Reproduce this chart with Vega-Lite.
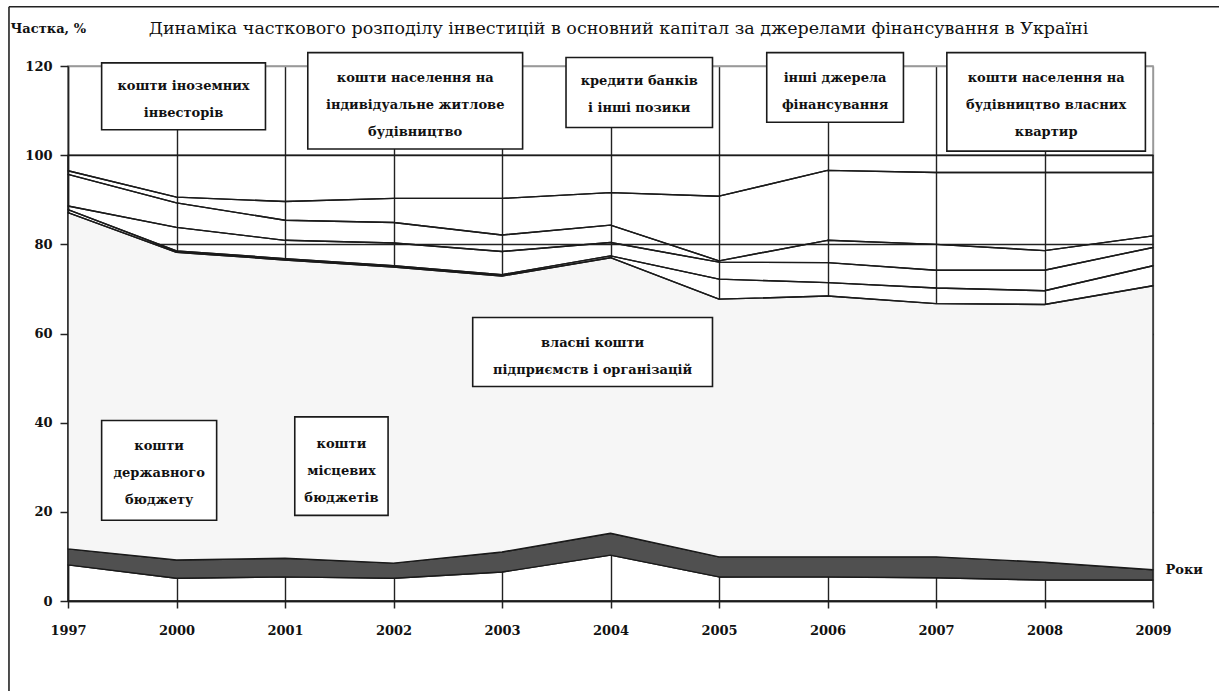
{
  "$schema": "https://vega.github.io/schema/vega-lite/v6.json",
  "autosize": {"type": "none"},
  "width": 1085,
  "height": 535,
  "padding": {"left": 68, "top": 66, "right": 66, "bottom": 90},
  "background": "white",
  "title": {
    "text": "Динаміка часткового розподілу інвестицій в основний капітал за джерелами фінансування в Україні",
    "font": "DejaVu Serif",
    "fontSize": 17.5,
    "fontWeight": "normal",
    "color": "#111",
    "anchor": "middle",
    "frame": "group",
    "offset": 0,
    "dy": 32,
    "dx": 8
  },
  "config": {
    "view": {"stroke": "#999", "strokeWidth": 1.5},
    "axis": {
      "labelFont": "DejaVu Serif",
      "labelFontWeight": "bold",
      "labelFontSize": 13,
      "labelColor": "#111",
      "titleFont": "DejaVu Serif",
      "titleFontWeight": "bold",
      "titleFontSize": 13,
      "titleColor": "#111",
      "domainColor": "#222",
      "domainWidth": 1.5,
      "tickColor": "#222",
      "tickWidth": 1.5,
      "gridWidth": 1.4
    }
  },
  "datasets": {
    "shares": [
      {"year": "1997", "pos": 0, "k": 1, "s": "Кошти державного бюджету", "v": 8.1},
      {"year": "1997", "pos": 0, "k": 2, "s": "Кошти місцевих бюджетів", "v": 3.6},
      {"year": "1997", "pos": 0, "k": 3, "s": "Власні кошти підприємств і організацій", "v": 75.4},
      {"year": "1997", "pos": 0, "k": 4, "s": "Кошти населення на будівництво власних квартир", "v": 0.7},
      {"year": "1997", "pos": 0, "k": 5, "s": "Кошти іноземних інвесторів", "v": 0.8},
      {"year": "1997", "pos": 0, "k": 6, "s": "Кошти населення на індивідуальне житлове будівництво", "v": 7.1},
      {"year": "1997", "pos": 0, "k": 7, "s": "Кредити банків та інші позики", "v": 0.8},
      {"year": "1997", "pos": 0, "k": 8, "s": "Інші джерела фінансування", "v": 3.5},

      {"year": "2000", "pos": 1, "k": 1, "s": "Кошти державного бюджету", "v": 5.1},
      {"year": "2000", "pos": 1, "k": 2, "s": "Кошти місцевих бюджетів", "v": 4.1},
      {"year": "2000", "pos": 1, "k": 3, "s": "Власні кошти підприємств і організацій", "v": 69.0},
      {"year": "2000", "pos": 1, "k": 4, "s": "Кошти населення на будівництво власних квартир", "v": 0.3},
      {"year": "2000", "pos": 1, "k": 5, "s": "Кошти іноземних інвесторів", "v": 5.3},
      {"year": "2000", "pos": 1, "k": 6, "s": "Кошти населення на індивідуальне житлове будівництво", "v": 5.5},
      {"year": "2000", "pos": 1, "k": 7, "s": "Кредити банків та інші позики", "v": 1.3},
      {"year": "2000", "pos": 1, "k": 8, "s": "Інші джерела фінансування", "v": 9.4},

      {"year": "2001", "pos": 2, "k": 1, "s": "Кошти державного бюджету", "v": 5.4},
      {"year": "2001", "pos": 2, "k": 2, "s": "Кошти місцевих бюджетів", "v": 4.2},
      {"year": "2001", "pos": 2, "k": 3, "s": "Власні кошти підприємств і організацій", "v": 66.9},
      {"year": "2001", "pos": 2, "k": 4, "s": "Кошти населення на будівництво власних квартир", "v": 0.3},
      {"year": "2001", "pos": 2, "k": 5, "s": "Кошти іноземних інвесторів", "v": 4.1},
      {"year": "2001", "pos": 2, "k": 6, "s": "Кошти населення на індивідуальне житлове будівництво", "v": 4.5},
      {"year": "2001", "pos": 2, "k": 7, "s": "Кредити банків та інші позики", "v": 4.2},
      {"year": "2001", "pos": 2, "k": 8, "s": "Інші джерела фінансування", "v": 10.4},

      {"year": "2002", "pos": 3, "k": 1, "s": "Кошти державного бюджету", "v": 5.1},
      {"year": "2002", "pos": 3, "k": 2, "s": "Кошти місцевих бюджетів", "v": 3.4},
      {"year": "2002", "pos": 3, "k": 3, "s": "Власні кошти підприємств і організацій", "v": 66.4},
      {"year": "2002", "pos": 3, "k": 4, "s": "Кошти населення на будівництво власних квартир", "v": 0.3},
      {"year": "2002", "pos": 3, "k": 5, "s": "Кошти іноземних інвесторів", "v": 5.1},
      {"year": "2002", "pos": 3, "k": 6, "s": "Кошти населення на індивідуальне житлове будівництво", "v": 4.6},
      {"year": "2002", "pos": 3, "k": 7, "s": "Кредити банків та інші позики", "v": 5.4},
      {"year": "2002", "pos": 3, "k": 8, "s": "Інші джерела фінансування", "v": 9.7},

      {"year": "2003", "pos": 4, "k": 1, "s": "Кошти державного бюджету", "v": 6.5},
      {"year": "2003", "pos": 4, "k": 2, "s": "Кошти місцевих бюджетів", "v": 4.5},
      {"year": "2003", "pos": 4, "k": 3, "s": "Власні кошти підприємств і організацій", "v": 61.9},
      {"year": "2003", "pos": 4, "k": 4, "s": "Кошти населення на будівництво власних квартир", "v": 0.3},
      {"year": "2003", "pos": 4, "k": 5, "s": "Кошти іноземних інвесторів", "v": 5.2},
      {"year": "2003", "pos": 4, "k": 6, "s": "Кошти населення на індивідуальне житлове будівництво", "v": 3.7},
      {"year": "2003", "pos": 4, "k": 7, "s": "Кредити банків та інші позики", "v": 8.2},
      {"year": "2003", "pos": 4, "k": 8, "s": "Інші джерела фінансування", "v": 9.7},

      {"year": "2004", "pos": 5, "k": 1, "s": "Кошти державного бюджету", "v": 10.3},
      {"year": "2004", "pos": 5, "k": 2, "s": "Кошти місцевих бюджетів", "v": 4.9},
      {"year": "2004", "pos": 5, "k": 3, "s": "Власні кошти підприємств і організацій", "v": 61.8},
      {"year": "2004", "pos": 5, "k": 4, "s": "Кошти населення на будівництво власних квартир", "v": 0.4},
      {"year": "2004", "pos": 5, "k": 5, "s": "Кошти іноземних інвесторів", "v": 3.0},
      {"year": "2004", "pos": 5, "k": 6, "s": "Кошти населення на індивідуальне житлове будівництво", "v": 3.9},
      {"year": "2004", "pos": 5, "k": 7, "s": "Кредити банків та інші позики", "v": 7.3},
      {"year": "2004", "pos": 5, "k": 8, "s": "Інші джерела фінансування", "v": 8.4},

      {"year": "2005", "pos": 6, "k": 1, "s": "Кошти державного бюджету", "v": 5.4},
      {"year": "2005", "pos": 6, "k": 2, "s": "Кошти місцевих бюджетів", "v": 4.5},
      {"year": "2005", "pos": 6, "k": 3, "s": "Власні кошти підприємств і організацій", "v": 57.8},
      {"year": "2005", "pos": 6, "k": 4, "s": "Кошти населення на будівництво власних квартир", "v": 4.5},
      {"year": "2005", "pos": 6, "k": 5, "s": "Кошти іноземних інвесторів", "v": 3.8},
      {"year": "2005", "pos": 6, "k": 6, "s": "Кошти населення на індивідуальне житлове будівництво", "v": 0.3},
      {"year": "2005", "pos": 6, "k": 7, "s": "Кредити банків та інші позики", "v": 14.5},
      {"year": "2005", "pos": 6, "k": 8, "s": "Інші джерела фінансування", "v": 9.2},

      {"year": "2006", "pos": 7, "k": 1, "s": "Кошти державного бюджету", "v": 5.4},
      {"year": "2006", "pos": 7, "k": 2, "s": "Кошти місцевих бюджетів", "v": 4.5},
      {"year": "2006", "pos": 7, "k": 3, "s": "Власні кошти підприємств і організацій", "v": 58.5},
      {"year": "2006", "pos": 7, "k": 4, "s": "Кошти населення на будівництво власних квартир", "v": 3.0},
      {"year": "2006", "pos": 7, "k": 5, "s": "Кошти іноземних інвесторів", "v": 4.5},
      {"year": "2006", "pos": 7, "k": 6, "s": "Кошти населення на індивідуальне житлове будівництво", "v": 5.0},
      {"year": "2006", "pos": 7, "k": 7, "s": "Кредити банків та інші позики", "v": 15.7},
      {"year": "2006", "pos": 7, "k": 8, "s": "Інші джерела фінансування", "v": 3.4},

      {"year": "2007", "pos": 8, "k": 1, "s": "Кошти державного бюджету", "v": 5.2},
      {"year": "2007", "pos": 8, "k": 2, "s": "Кошти місцевих бюджетів", "v": 4.7},
      {"year": "2007", "pos": 8, "k": 3, "s": "Власні кошти підприємств і організацій", "v": 56.8},
      {"year": "2007", "pos": 8, "k": 4, "s": "Кошти населення на будівництво власних квартир", "v": 3.5},
      {"year": "2007", "pos": 8, "k": 5, "s": "Кошти іноземних інвесторів", "v": 4.0},
      {"year": "2007", "pos": 8, "k": 6, "s": "Кошти населення на індивідуальне житлове будівництво", "v": 5.8},
      {"year": "2007", "pos": 8, "k": 7, "s": "Кредити банків та інші позики", "v": 16.1},
      {"year": "2007", "pos": 8, "k": 8, "s": "Інші джерела фінансування", "v": 3.9},

      {"year": "2008", "pos": 9, "k": 1, "s": "Кошти державного бюджету", "v": 4.7},
      {"year": "2008", "pos": 9, "k": 2, "s": "Кошти місцевих бюджетів", "v": 4.0},
      {"year": "2008", "pos": 9, "k": 3, "s": "Власні кошти підприємств і організацій", "v": 57.8},
      {"year": "2008", "pos": 9, "k": 4, "s": "Кошти населення на будівництво власних квартир", "v": 3.1},
      {"year": "2008", "pos": 9, "k": 5, "s": "Кошти іноземних інвесторів", "v": 4.6},
      {"year": "2008", "pos": 9, "k": 6, "s": "Кошти населення на індивідуальне житлове будівництво", "v": 4.4},
      {"year": "2008", "pos": 9, "k": 7, "s": "Кредити банків та інші позики", "v": 17.5},
      {"year": "2008", "pos": 9, "k": 8, "s": "Інші джерела фінансування", "v": 3.9},

      {"year": "2009", "pos": 10, "k": 1, "s": "Кошти державного бюджету", "v": 4.7},
      {"year": "2009", "pos": 10, "k": 2, "s": "Кошти місцевих бюджетів", "v": 2.3},
      {"year": "2009", "pos": 10, "k": 3, "s": "Власні кошти підприємств і організацій", "v": 63.7},
      {"year": "2009", "pos": 10, "k": 4, "s": "Кошти населення на будівництво власних квартир", "v": 4.5},
      {"year": "2009", "pos": 10, "k": 5, "s": "Кошти іноземних інвесторів", "v": 4.1},
      {"year": "2009", "pos": 10, "k": 6, "s": "Кошти населення на індивідуальне житлове будівництво", "v": 2.6},
      {"year": "2009", "pos": 10, "k": 7, "s": "Кредити банків та інші позики", "v": 14.2},
      {"year": "2009", "pos": 10, "k": 8, "s": "Інші джерела фінансування", "v": 3.9}
    ],
    "boxes": [
      {"x1": 0.31, "x2": 1.82, "y1": 120.7, "y2": 105.7, "tx": 1.065, "ty": 115.5, "label": "кошти іноземних\nінвесторів"},
      {"x1": 2.21, "x2": 4.19, "y1": 123.0, "y2": 101.4, "tx": 3.2, "ty": 117.4, "label": "кошти населення на\nіндивідуальне житлове\nбудівництво"},
      {"x1": 4.59, "x2": 5.94, "y1": 121.9, "y2": 106.2, "tx": 5.265, "ty": 116.6, "label": "кредити банків\nі інші позики"},
      {"x1": 6.44, "x2": 7.70, "y1": 123.0, "y2": 107.4, "tx": 7.07, "ty": 117.4, "label": "інші джерела\nфінансування"},
      {"x1": 8.10, "x2": 9.93, "y1": 123.0, "y2": 100.9, "tx": 9.015, "ty": 117.4, "label": "кошти населення на\nбудівництво власних\nквартир"},
      {"x1": 3.73, "x2": 5.94, "y1": 63.6, "y2": 48.1, "tx": 4.835, "ty": 57.9, "label": "власні кошти\nпідприємств і організацій"},
      {"x1": 0.31, "x2": 1.37, "y1": 40.5, "y2": 18.1, "tx": 0.84, "ty": 34.7, "label": "кошти\nдержавного\nбюджету"},
      {"x1": 2.09, "x2": 2.95, "y1": 41.3, "y2": 19.2, "tx": 2.52, "ty": 35.3, "label": "кошти\nмісцевих\nбюджетів"}
    ],
    "frame": [
      {"x1": -0.544, "x2": -0.544, "y1": 133.3, "y2": -22},
      {"x1": -0.544, "x2": 10.8, "y1": 133.3, "y2": 133.3}
    ]
  },
  "layer": [
    {
      "data": {"name": "shares"},
      "mark": {"type": "area", "stroke": "#1a1a1a", "strokeWidth": 1.4, "strokeJoin": "round", "fillOpacity": 1},
      "encoding": {
        "x": {
          "field": "pos",
          "type": "quantitative",
          "scale": {"domain": [0, 10], "nice": false, "zero": false},
          "axis": {
            "values": [0, 1, 2, 3, 4, 5, 6, 7, 8, 9, 10],
            "labelExpr": "['1997','2000','2001','2002','2003','2004','2005','2006','2007','2008','2009'][datum.value]",
            "grid": true,
            "gridColor": {"condition": {"test": "datum.value === 10", "value": "#999"}, "value": "#222"},
            "tickSize": 7,
            "labelPadding": 16,
            "labelFlush": false,
            "title": "Роки",
            "titleAngle": 0,
            "titleAlign": "left",
            "titleBaseline": "middle",
            "titleX": 1097,
            "titleY": -32
          }
        },
        "y": {
          "field": "v",
          "type": "quantitative",
          "stack": "zero",
          "scale": {"domain": [0, 120], "nice": false},
          "axis": {
            "values": [0, 20, 40, 60, 80, 100, 120],
            "grid": true,
            "gridColor": {"condition": {"test": "datum.value === 120", "value": "#999"}, "value": "#222"},
            "tickSize": 8,
            "labelPadding": 8,
            "title": "Частка, %",
            "titleAngle": 0,
            "titleAlign": "left",
            "titleBaseline": "middle",
            "titleX": -58,
            "titleY": -38
          }
        },
        "color": {
          "field": "s",
          "type": "nominal",
          "legend": null,
          "scale": {
            "domain": [
              "Кошти державного бюджету",
              "Кошти місцевих бюджетів",
              "Власні кошти підприємств і організацій",
              "Кошти населення на будівництво власних квартир",
              "Кошти іноземних інвесторів",
              "Кошти населення на індивідуальне житлове будівництво",
              "Кредити банків та інші позики",
              "Інші джерела фінансування"
            ],
            "range": ["transparent", "#505050", "#f6f6f6", "transparent", "transparent", "transparent", "transparent", "transparent"]
          }
        },
        "order": {"field": "k", "type": "quantitative", "sort": "ascending"}
      }
    },
    {
      "data": {"name": "boxes"},
      "mark": {"type": "rect", "fill": "white", "stroke": "#1a1a1a", "strokeWidth": 1.6},
      "encoding": {
        "x": {"field": "x1", "type": "quantitative", "scale": {"domain": [0, 10], "nice": false, "zero": false}},
        "x2": {"field": "x2"},
        "y": {"field": "y1", "type": "quantitative", "scale": {"domain": [0, 120], "nice": false}},
        "y2": {"field": "y2"}
      }
    },
    {
      "data": {"name": "boxes"},
      "mark": {"type": "text", "font": "DejaVu Serif", "fontWeight": "bold", "fontSize": 13, "lineBreak": "\n", "lineHeight": 27, "align": "center", "baseline": "middle", "color": "#111"},
      "encoding": {
        "x": {"field": "tx", "type": "quantitative", "scale": {"domain": [0, 10], "nice": false, "zero": false}},
        "y": {"field": "ty", "type": "quantitative", "scale": {"domain": [0, 120], "nice": false}},
        "text": {"field": "label", "type": "nominal"}
      }
    },
    {
      "data": {"name": "frame"},
      "mark": {"type": "rule", "stroke": "#222", "strokeWidth": 1.6},
      "encoding": {
        "x": {"field": "x1", "type": "quantitative", "scale": {"domain": [0, 10], "nice": false, "zero": false}},
        "x2": {"field": "x2"},
        "y": {"field": "y1", "type": "quantitative", "scale": {"domain": [0, 120], "nice": false}},
        "y2": {"field": "y2"}
      }
    }
  ]
}
